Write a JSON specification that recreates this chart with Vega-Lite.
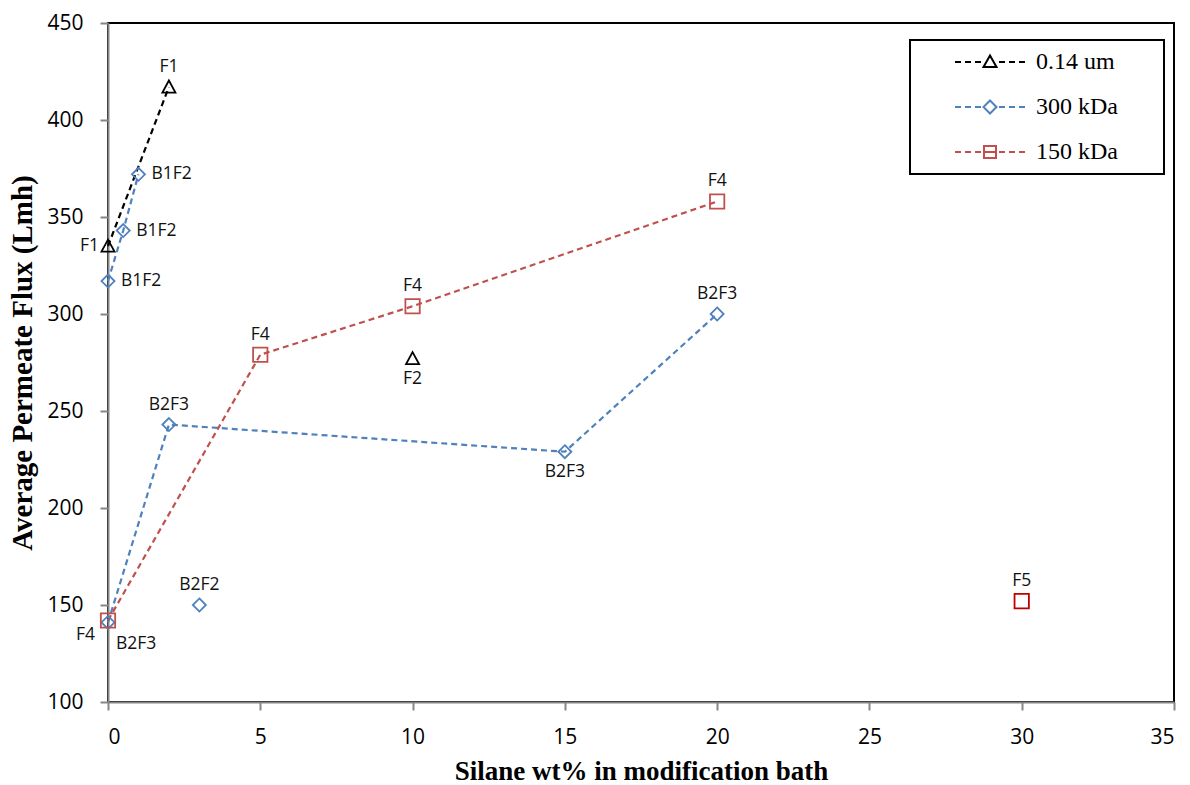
{
  "$schema": "https://vega.github.io/schema/vega-lite/v6.json",
  "width": 1066,
  "height": 679,
  "autosize": {"type": "none"},
  "padding": {"left": 108, "top": 23, "right": 16, "bottom": 83},
  "background": "white",
  "config": {
    "view": {"stroke": "black", "strokeWidth": 2},
    "axis": {
      "grid": false,
      "domainColor": "#868686",
      "domainWidth": 2,
      "tickColor": "#868686",
      "tickWidth": 2,
      "tickSize": 8,
      "labelFont": "Open Sans",
      "labelFontSize": 21,
      "labelColor": "black",
      "titleFont": "Liberation Serif",
      "titleFontWeight": "bold",
      "titleColor": "black"
    },
    "text": {"font": "Open Sans", "fontSize": 17.5, "color": "#111111"},
    "point": {"filled": false, "size": 170, "strokeWidth": 1.8, "opacity": 1}
  },
  "data": {
    "values": [
      {"series": "0.14 um", "group": "a", "x": 0, "y": 335, "label": "F1", "side": "left"},
      {"series": "0.14 um", "group": "a", "x": 2, "y": 417, "label": "F1", "side": "top"},
      {"series": "0.14 um", "group": null, "x": 10, "y": 277, "label": "F2", "side": "bottom"},
      {"series": "300 kDa", "group": "b1", "x": 0, "y": 317, "label": "B1F2", "side": "right"},
      {"series": "300 kDa", "group": "b1", "x": 0.5, "y": 343, "label": "B1F2", "side": "right"},
      {"series": "300 kDa", "group": "b1", "x": 1, "y": 372, "label": "B1F2", "side": "right"},
      {"series": "300 kDa", "group": "b2", "x": 0, "y": 141, "label": "B2F3", "side": "lowerright"},
      {"series": "300 kDa", "group": "b2", "x": 2, "y": 243, "label": "B2F3", "side": "top"},
      {"series": "300 kDa", "group": "b2", "x": 15, "y": 229, "label": "B2F3", "side": "bottom"},
      {"series": "300 kDa", "group": "b2", "x": 20, "y": 300, "label": "B2F3", "side": "top"},
      {"series": "300 kDa", "group": null, "x": 3, "y": 150, "label": "B2F2", "side": "top"},
      {"series": "150 kDa", "group": "c", "x": 0, "y": 142, "label": "F4", "side": "lowerleft"},
      {"series": "150 kDa", "group": "c", "x": 5, "y": 279, "label": "F4", "side": "top"},
      {"series": "150 kDa", "group": "c", "x": 10, "y": 304, "label": "F4", "side": "top"},
      {"series": "150 kDa", "group": "c", "x": 20, "y": 358, "label": "F4", "side": "top"},
      {"series": "150 kDa", "group": null, "x": 30, "y": 152, "label": "F5", "side": "top"}
    ]
  },
  "encoding": {
    "x": {
      "field": "x",
      "type": "quantitative",
      "scale": {"domain": [0, 35], "nice": false, "zero": false},
      "axis": {"values": [0, 5, 10, 15, 20, 25, 30, 35], "labelPadding": 16, "titlePadding": 11, "titleFontSize": 27, "title": "Silane wt% in modification bath"}
    },
    "y": {
      "field": "y",
      "type": "quantitative",
      "scale": {"domain": [100, 450], "nice": false, "zero": false},
      "axis": {"values": [100, 150, 200, 250, 300, 350, 400, 450], "labelPadding": 17, "titlePadding": 9, "titleFontSize": 29, "title": "Average Permeate Flux (Lmh)"}
    }
  },
  "layer": [
    {
      "transform": [{"filter": "datum.group != null"}],
      "mark": {"type": "line", "strokeWidth": 2.2, "strokeDash": [6, 4]},
      "encoding": {
        "detail": {"field": "group"},
        "order": {"field": "x", "type": "quantitative"},
        "color": {
          "field": "series",
          "type": "nominal",
          "scale": {"domain": ["0.14 um", "300 kDa", "150 kDa"], "range": ["#000000", "#4F81BD", "#C0504D"]},
          "legend": {
            "title": null,
            "orient": "none",
            "legendX": 802,
            "legendY": 17,
            "padding": 10,
            "strokeColor": "black",
            "symbolSize": 400,
            "symbolOffset": 58,
            "labelOffset": 34,
            "rowPadding": 21,
            "labelFont": "Liberation Serif",
            "labelFontSize": 24,
            "labelColor": "black",
            "encode": {
              "legend": {"update": {"strokeWidth": {"value": 2}}},
              "symbols": {
                "update": {
                  "shape": {"signal": "datum.value === '0.14 um' ? 'M-6.8,0M16,0M-3.5,0H-2.9M-2.5,0H-1.9M-1.5,0H-0.9M0.9,0H1.5M1.9,0H2.5M2.9,0H3.5M0,-0.65L0.65,0.5L-0.65,0.5Z' : datum.value === '300 kDa' ? 'M-6.8,0M16,0M-3.5,0H-2.9M-2.5,0H-1.9M-1.5,0H-0.9M0.9,0H1.5M1.9,0H2.5M2.9,0H3.5M0,-0.65L0.65,0L0,0.65L-0.65,0Z' : 'M-6.8,0M16,0M-3.5,0H-2.9M-2.5,0H-1.9M-1.5,0H-0.9M0.9,0H1.5M1.9,0H2.5M2.9,0H3.5M-0.6,-0.6H0.6V0.6H-0.6ZM-0.6,0H0.6'"},
                  "size": {"value": 400},
                  "strokeDash": {"value": []},
                  "strokeWidth": {"value": 2},
                  "fill": {"value": "transparent"},
                  "opacity": {"value": 1}
                }
              }
            }
          }
        }
      }
    },
    {
      "transform": [{"filter": "datum.series === '0.14 um'"}],
      "mark": {"type": "point", "shape": "M0,-1L1,0.85L-1,0.85Z"},
      "encoding": {"color": {"field": "series", "type": "nominal"}}
    },
    {
      "transform": [{"filter": "datum.series === '300 kDa'"}],
      "mark": {"type": "point", "shape": "M0,-1L1,0L0,1L-1,0Z"},
      "encoding": {"color": {"field": "series", "type": "nominal"}}
    },
    {
      "transform": [{"filter": "datum.series === '150 kDa'"}],
      "mark": {"type": "point", "shape": "M-1.1,-1.1H1.1V1.1H-1.1Z"},
      "encoding": {
        "color": {
          "condition": {"test": "datum.label === 'F5'", "value": "#C00000"},
          "field": "series",
          "type": "nominal"
        }
      }
    },
    {
      "transform": [{"filter": "datum.side === 'top'"}],
      "mark": {"type": "text", "align": "center", "baseline": "middle", "dy": -20},
      "encoding": {"text": {"field": "label"}}
    },
    {
      "transform": [{"filter": "datum.side === 'bottom'"}],
      "mark": {"type": "text", "align": "center", "baseline": "middle", "dy": 20},
      "encoding": {"text": {"field": "label"}}
    },
    {
      "transform": [{"filter": "datum.side === 'left'"}],
      "mark": {"type": "text", "align": "right", "baseline": "middle", "dx": -9},
      "encoding": {"text": {"field": "label"}}
    },
    {
      "transform": [{"filter": "datum.side === 'right'"}],
      "mark": {"type": "text", "align": "left", "baseline": "middle", "dx": 13},
      "encoding": {"text": {"field": "label"}}
    },
    {
      "transform": [{"filter": "datum.side === 'lowerleft'"}],
      "mark": {"type": "text", "align": "right", "baseline": "middle", "dx": -13, "dy": 14},
      "encoding": {"text": {"field": "label"}}
    },
    {
      "transform": [{"filter": "datum.side === 'lowerright'"}],
      "mark": {"type": "text", "align": "left", "baseline": "middle", "dx": 8, "dy": 22},
      "encoding": {"text": {"field": "label"}}
    }
  ]
}
